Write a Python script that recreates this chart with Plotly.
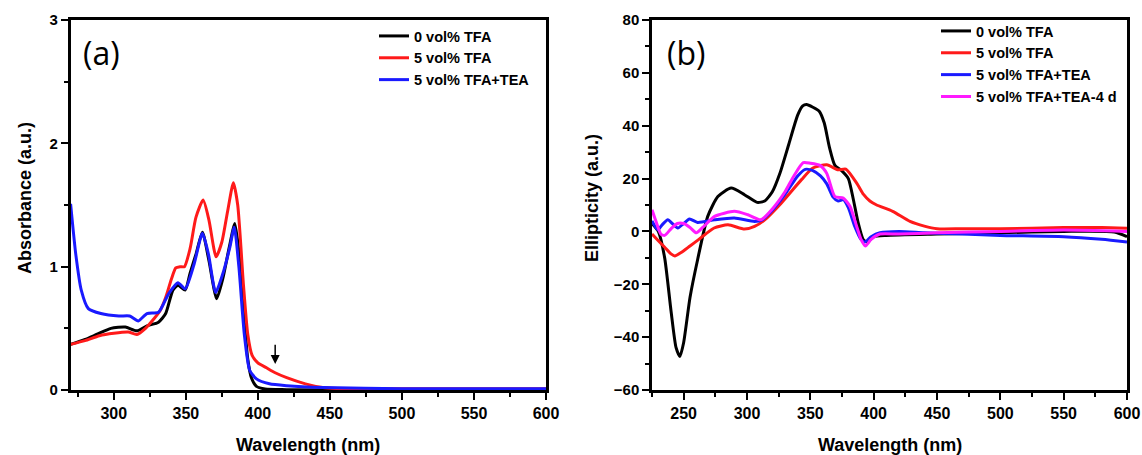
import plotly.graph_objects as go

# ---------------- Panel (a): absorbance ----------------
wl_a_black = [270, 280, 288, 298, 308, 316, 323, 331, 336, 341, 344.5, 349.5, 353, 357, 361.5, 366, 371.4, 375.6, 380, 384, 387, 390.6, 393, 395.5, 399, 405, 420, 500, 600]
abs_black = [0.37, 0.41, 0.45, 0.50, 0.51, 0.48, 0.52, 0.55, 0.62, 0.81, 0.85, 0.81, 0.95, 1.10, 1.28, 1.05, 0.74, 0.90, 1.15, 1.35, 1.10, 0.56, 0.25, 0.10, 0.03, 0.008, 0.003, 0.0, 0.0]

wl_a_red = [270, 280, 290, 300, 310, 316, 322, 328, 332, 336, 340, 343, 346, 349, 353, 357, 362, 366, 371, 375, 379, 383, 386, 390, 393, 396, 400, 406, 412, 420, 433, 445, 460, 500, 600]
abs_red = [0.37, 0.40, 0.44, 0.46, 0.47, 0.45, 0.50, 0.58, 0.64, 0.75, 0.90, 0.99, 1.00, 1.00, 1.15, 1.40, 1.54, 1.38, 1.08, 1.20, 1.45, 1.68, 1.50, 0.85, 0.45, 0.28, 0.22, 0.18, 0.14, 0.10, 0.05, 0.02, 0.01, 0.01, 0.01]

wl_a_blue = [270, 273.6, 277.4, 282.3, 291, 303.5, 311, 317, 323, 331, 338, 344.5, 349.5, 355.7, 361.5, 365.7, 370.7, 375.6, 380.6, 383.6, 386.8, 390.6, 394.3, 399, 408, 420, 445, 500, 600]
abs_blue = [1.51, 1.10, 0.81, 0.66, 0.62, 0.60, 0.60, 0.56, 0.62, 0.63, 0.78, 0.87, 0.82, 1.02, 1.27, 1.10, 0.79, 0.94, 1.16, 1.32, 1.00, 0.45, 0.16, 0.09, 0.05, 0.035, 0.02, 0.01, 0.01]

arrow_wl = 412      # arrow position (nm)
arrow_top = 0.38
arrow_tip = 0.21

# ---------------- Panel (b): ellipticity ----------------
wl_b_black = [225, 230, 235, 240, 244, 247, 250, 255, 261, 269, 277, 287.5, 298, 308, 314, 320, 326, 333, 340, 344, 347, 352, 357, 361, 365, 369.4, 374.7, 380, 384, 387.8, 391.8, 395, 400, 410, 450, 500, 550, 590, 600]
ell_black = [3, 0, -10, -30, -44, -47.3, -42, -25, -10.7, 5.7, 13.2, 16.4, 13.9, 11, 11.5, 15, 22, 33, 44, 47.5, 48, 47, 45.5, 41, 32, 25, 23, 20, 12, 3.2, -3.1, -4, -2, -1.5, -1, -0.5, 0, -0.2, -2]

wl_b_red = [225, 230, 235, 240, 243, 248, 255, 262, 274, 285, 298, 306, 314, 327, 343, 352, 363, 372, 378, 386.6, 392, 397, 402, 415, 428.7, 440, 450, 470, 500, 550, 580, 600]
ell_red = [-1, -3.5, -6, -8.5, -9.3, -8, -5.5, -3, 1.3, 2.5, 0.9, 1.9, 4.4, 10.7, 19.6, 24, 25.2, 23.3, 23.6, 18.3, 14, 11.5, 10.1, 7.6, 3.8, 2, 1, 1, 1, 1.5, 1.5, 1.2]

wl_b_blue = [225, 229.6, 233, 237.5, 241, 245.4, 250, 254.6, 261, 274.4, 290, 306, 312, 320, 330, 340, 346, 352, 358, 363, 368, 372, 376, 380, 385, 390, 393, 398, 405, 420, 440, 470, 500, 550, 580, 600]
ell_blue = [4, 0.6, 2.5, 4.4, 3, 1.3, 3, 4.7, 3.4, 4.4, 5.1, 3.8, 4.4, 8, 14, 21, 23.5, 23, 21, 18, 13, 11.5, 12, 9, 2, -3, -4, -2, -0.5, 0, -0.5, -1, -1.5, -2, -3, -4]

wl_b_magenta = [225, 228, 232, 235, 240, 245, 250, 255, 260, 265, 274.4, 290, 300.7, 311, 320, 330, 337, 344.4, 350, 357.6, 362.9, 369.4, 376, 381.3, 386.6, 390, 393.5, 398, 405, 420, 450, 500, 550, 600]
ell_magenta = [8.2, 4, -1, -1.5, 1, 3, 3, 1.5, -0.5, 1.5, 5.7, 7.6, 6.3, 4.4, 8.5, 15, 21, 26, 25.8, 25, 22, 13.2, 12.6, 9.5, 1.9, -3, -5.5, -3, -1, -1, -0.5, 0, 0.5, 0]

labels_a = ["0 vol% TFA", "5 vol% TFA", "5 vol% TFA+TEA"]
labels_b = ["0 vol% TFA", "5 vol% TFA", "5 vol% TFA+TEA", "5 vol% TFA+TEA-4 d"]
colors = ["#000000", "#ff1a1a", "#1a1aff", "#ff1aff"]

FONT = "Liberation Sans"
W, H = 1142, 455
T, B = 20, 65
PH = H - T - B
LW = 3


def py(pix):
    """pixel row -> paper y"""
    return 1 - (pix - T) / PH


fig = go.Figure()

series_a = [(wl_a_black, abs_black), (wl_a_red, abs_red), (wl_a_blue, abs_blue)]
for (xs, ys), name, c in zip(series_a, labels_a, colors):
    fig.add_trace(go.Scatter(x=xs, y=ys, mode="lines", name=name,
                             line=dict(color=c, width=LW, shape="spline", smoothing=0.6),
                             xaxis="x", yaxis="y", legend="legend"))

series_b = [(wl_b_black, ell_black), (wl_b_red, ell_red), (wl_b_blue, ell_blue), (wl_b_magenta, ell_magenta)]
for (xs, ys), name, c in zip(series_b, labels_b, colors):
    fig.add_trace(go.Scatter(x=xs, y=ys, mode="lines", name=name,
                             line=dict(color=c, width=LW, shape="spline", smoothing=0.6),
                             xaxis="x2", yaxis="y2", legend="legend2"))

axis_common = dict(showline=True, linecolor="black", linewidth=2.5, mirror=True,
                   ticks="outside", ticklen=7, tickwidth=2, tickcolor="black",
                   showgrid=False, zeroline=False, automargin=False,
                   tickfont=dict(family=FONT, size=15, color="black", weight="bold"))

xa = dict(axis_common, tickfont=dict(family=FONT, size=16, color="black", weight="bold"))
minor_style = dict(ticks="outside", ticklen=4, tickwidth=2, tickcolor="black", tick0=0)

legend_style = dict(xanchor="left", yanchor="top", bgcolor="rgba(0,0,0,0)", borderwidth=0,
                    tracegroupgap=0, itemwidth=30,
                    font=dict(family=FONT, size=14.5, color="black", weight="bold"))

fig.update_layout(
    width=W, height=H,
    margin=dict(l=0, r=0, t=T, b=B, autoexpand=False),
    paper_bgcolor="white", plot_bgcolor="white",
    showlegend=True,
    xaxis=dict(xa, domain=[70.6 / W, 546 / W], range=[270, 600], tick0=0, dtick=50,
               minor=dict(minor_style, dtick=25)),
    yaxis=dict(axis_common, range=[0, 3], dtick=1, tick0=0,
               minor=dict(minor_style, dtick=0.5)),
    xaxis2=dict(xa, domain=[652 / W, 1127 / W], range=[225, 600], tick0=0, dtick=50, anchor="y2",
                minor=dict(minor_style, dtick=25)),
    yaxis2=dict(axis_common, range=[-60, 80], dtick=20, tick0=0, anchor="x2",
                minor=dict(minor_style, dtick=10)),
    legend=dict(legend_style, x=374 / W, y=py(20)),
    legend2=dict(legend_style, x=936 / W, y=py(15)),
)

ann = []
# panel labels
for txt, xc in (("(a)", 102), ("(b)", 686)):
    ann.append(dict(text=txt, xref="paper", yref="paper", x=xc / W, y=py(52),
                    xanchor="center", yanchor="middle", showarrow=False,
                    font=dict(family="Open Sans", size=32, color="black")))
# axis titles
tfont = dict(family=FONT, size=18, color="black", weight="bold")
ann.append(dict(text="Absorbance (a.u.)", xref="paper", yref="paper", x=25 / W, y=py(198),
                xanchor="center", yanchor="middle", showarrow=False, textangle=-90, font=tfont))
ann.append(dict(text="Ellipticity (a.u.)", xref="paper", yref="paper", x=592 / W, y=py(198),
                xanchor="center", yanchor="middle", showarrow=False, textangle=-90, font=tfont))
for xc in (308, 890):
    ann.append(dict(text="Wavelength (nm)", xref="paper", yref="paper", x=xc / W, y=py(445),
                    xanchor="center", yanchor="middle", showarrow=False, font=tfont))
# arrow in panel (a)
ann.append(dict(x=arrow_wl, y=arrow_tip, ax=arrow_wl, ay=arrow_top, xref="x", yref="y",
                axref="x", ayref="y", text="", showarrow=True, arrowhead=2, arrowsize=1.2,
                arrowwidth=1.5, arrowcolor="black"))
fig.update_layout(annotations=ann)

fig.write_html("out.html")
